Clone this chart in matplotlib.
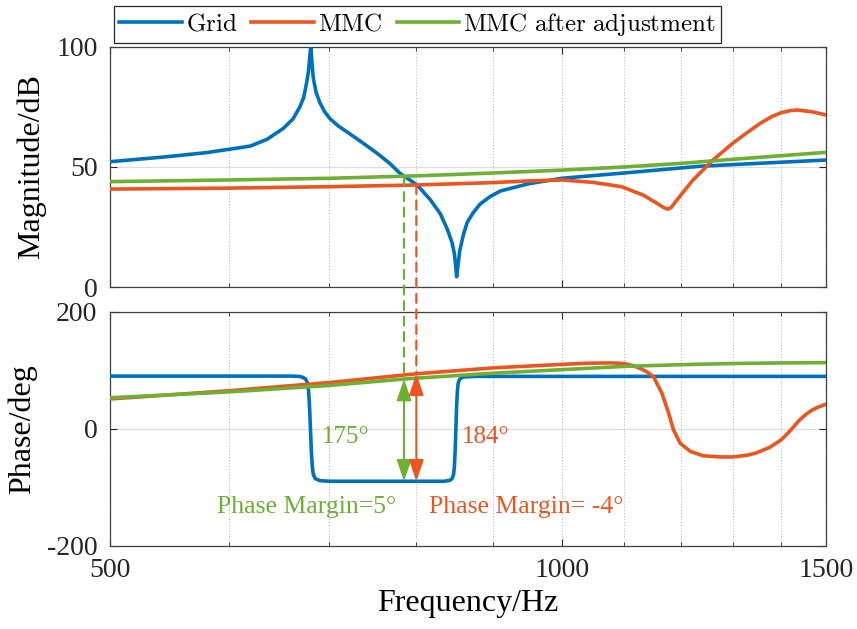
import numpy as np
import matplotlib.pyplot as plt
from matplotlib.patches import ConnectionPatch
from matplotlib.ticker import FixedLocator, NullFormatter

plt.rcParams['font.family'] = 'serif'
plt.rcParams['font.serif'] = ['Liberation Serif', 'DejaVu Serif']
plt.rcParams['mathtext.fontset'] = 'cm'
plt.rcParams['axes.unicode_minus'] = False

# colours (MATLAB-like)
c_grid = '#0072BD'
c_mmc = '#EC5520'
c_adj = '#6DB033'

# magnitude, dB
grid_mag_f = [500, 546, 580, 620, 636, 652, 662, 669, 673, 676, 678, 679, 680.3, 681.5, 683, 686,
              690, 695, 701, 710, 719, 737, 754, 768, 780, 801, 817, 830, 839, 845, 848, 850, 851,
              852, 855, 860, 865, 873, 882, 895, 910, 950, 1000, 1100, 1236, 1300, 1500]
grid_mag = [52.2, 54.3, 56.0, 58.7, 61.5, 66, 70, 75, 79, 85, 90, 94.6, 100, 94, 87, 81,
            76.7, 73, 70, 67, 64.7, 60, 55.5, 51.5, 47.4, 42.5, 36.5, 30.5, 24, 18.5, 14, 8, 4.3,
            7, 15, 22, 27, 31, 34.5, 37.5, 40, 43, 45.3, 47.5, 50.3, 51, 52.9]

mmc_mag_f = [500, 600, 700, 800, 900, 950, 1000, 1049, 1096, 1133, 1157, 1170, 1177, 1183, 1193,
             1223, 1261, 1300, 1330, 1356, 1380, 1400, 1420, 1435, 1468, 1500]
mmc_mag = [40.8, 41.2, 41.8, 42.5, 43.5, 44.2, 44.6, 43.6, 41.8, 38.3, 34.9, 33.0, 32.4, 33.2, 36.2,
           44.6, 52.9, 59.9, 64.5, 68.2, 71.0, 72.6, 73.5, 73.75, 73, 71.7]

adj_mag_f = [500, 600, 700, 800, 900, 1000, 1100, 1200, 1300, 1400, 1500]
adj_mag = [43.9, 44.6, 45.3, 46.3, 47.5, 48.7, 50.0, 51.5, 53.2, 54.7, 56.1]

# phase, deg
grid_ph_f = [500, 660, 668, 672, 675, 677, 678, 679, 680, 681, 682, 683, 685, 690, 700,
             835, 842, 845, 847, 848, 849, 850, 851, 852, 853, 855, 860, 875, 1500]
grid_ph = [90, 90, 89.5, 88, 85, 78, 65, 40, 0, -40, -65, -78, -85, -88.5, -89.5,
           -89.5, -88, -85, -78, -65, -40, 0, 40, 65, 78, 85, 88.5, 89.5, 89.5]

mmc_ph_f = [500, 600, 700, 800, 900, 1000, 1040, 1080, 1100, 1115, 1128, 1140, 1151, 1166, 1178,
            1187, 1199, 1218, 1242, 1275, 1300, 1330, 1348, 1375, 1400, 1420, 1440, 1455, 1468,
            1485, 1500]
mmc_ph = [51, 65, 79, 94, 104, 110, 112, 112.5, 111.5, 108, 103, 97, 89, 61, 27,
          -2, -24.5, -38.5, -46, -48, -48, -45, -41, -32, -19, -3, 15, 25, 32, 38, 42]

adj_ph_f = [500, 600, 700, 785, 800, 900, 1000, 1100, 1200, 1300, 1400, 1500]
adj_ph = [53, 63, 74, 85, 86.5, 95, 101, 106.5, 109.5, 111.5, 112.5, 113]

# crossover points
f_adj, mag_adj_x, ph_adj_x = 785, 46, 85
f_mmc, mag_mmc_x, ph_mmc_x = 800, 42.5, 94
ph_grid_x = -89.5

fig = plt.figure(figsize=(8.57, 6.29), dpi=100)
ax1 = fig.add_axes([0.1284, 0.5437, 0.8355, 0.3816])
ax2 = fig.add_axes([0.1284, 0.132, 0.8355, 0.3725])

lw = 2.6
ax1.plot(grid_mag_f, grid_mag, color=c_grid, lw=lw, label=r'$\mathrm{Grid}$', zorder=3)
ax1.plot(mmc_mag_f, mmc_mag, color=c_mmc, lw=lw, label=r'$\mathrm{MMC}$', zorder=3)
ax1.plot(adj_mag_f, adj_mag, color=c_adj, lw=lw, label=r'$\mathrm{MMC\ after\ adjustment}$', zorder=3)

ax2.plot(grid_ph_f, grid_ph, color=c_grid, lw=lw, zorder=3)
ax2.plot(mmc_ph_f, mmc_ph, color=c_mmc, lw=lw, zorder=3)
ax2.plot(adj_ph_f, adj_ph, color=c_adj, lw=lw, zorder=3)

for ax in (ax1, ax2):
    ax.set_xscale('log')
    ax.set_xlim(500, 1500)
    ax.xaxis.set_major_locator(FixedLocator([500, 1000, 1500]))
    ax.xaxis.set_minor_locator(FixedLocator([600, 700, 800, 900, 1100, 1200, 1300, 1400]))
    ax.xaxis.set_minor_formatter(NullFormatter())
    ax.grid(axis='x', which='both', ls=':', color='#bdbdbd', lw=0.8)
    ax.grid(axis='y', which='major', ls='-', color='#dedede', lw=0.9)
    ax.tick_params(which='both', direction='in', top=True, right=True, colors='#262626',
                   labelsize=20)
    ax.tick_params(which='major', length=5, pad=9)
    ax.tick_params(which='minor', length=3)
    for s in ax.spines.values():
        s.set_color('#404040')
        s.set_linewidth(0.9)
    ax.set_axisbelow(True)

ax1.set_ylim(0, 100)
ax1.set_yticks([0, 50, 100])
ax1.set_xticklabels([])
ax1.set_ylabel('Magnitude/dB', fontsize=23, labelpad=7)

ax2.set_ylim(-200, 200)
ax2.set_yticks([-200, 0, 200])
ax2.set_xticklabels(['500', '1000', '1500'])
ax2.set_ylabel('Phase/deg', fontsize=23, labelpad=7)
ax2.set_xlabel('Frequency/Hz', fontsize=23, labelpad=4)

# dashed lines from magnitude crossover down to phase, then the margin arrows
for f, m, p, c in [(f_adj, mag_adj_x, ph_adj_x, c_adj), (f_mmc, mag_mmc_x, ph_mmc_x, c_mmc)]:
    con = ConnectionPatch(xyA=(f, m), coordsA=ax1.transData, xyB=(f, p), coordsB=ax2.transData,
                          color=c, lw=1.6, linestyle=(0, (4, 3)), zorder=4)
    fig.add_artist(con)
    ax2.annotate('', xy=(f, ph_grid_x), xytext=(f, p),
                 arrowprops=dict(arrowstyle='<|-|>,head_length=1.3,head_width=0.45',
                                 color=c, lw=1.5, shrinkA=0, shrinkB=0), zorder=5)

ax2.text(718, -14, '175°', color=c_adj, fontsize=18, ha='center', va='center')
ax2.text(890, -14, '184°', color=c_mmc, fontsize=18, ha='center', va='center')
ax2.text(676, -133, 'Phase Margin=5°', color=c_adj, fontsize=18.5, ha='center', va='center')
ax2.text(947, -133, 'Phase Margin= -4°', color=c_mmc, fontsize=18.5, ha='center', va='center')

leg = ax1.legend(loc='lower left', bbox_to_anchor=(0, 1.0), ncol=3, fontsize=18,
                 borderaxespad=0.16, frameon=True, fancybox=False, framealpha=1,
                 handlelength=2.5, handletextpad=0.16, columnspacing=0.57, borderpad=0.2)
leg.get_frame().set_edgecolor('#262626')
leg.get_frame().set_linewidth(0.9)

fig.savefig('out.png', dpi=100)
